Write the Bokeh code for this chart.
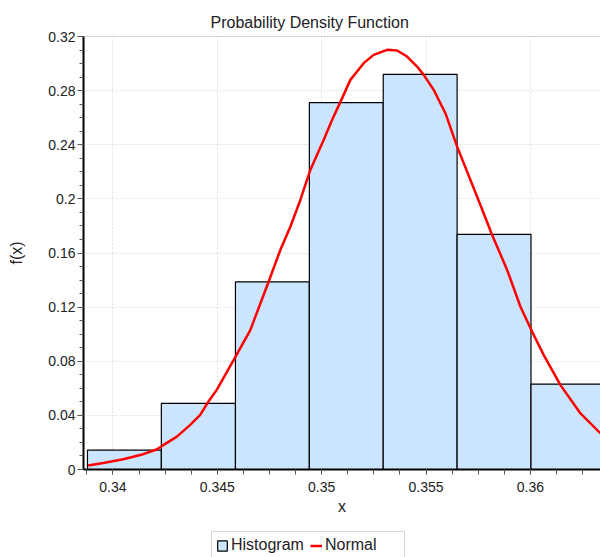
from bokeh.plotting import figure
from bokeh.layouts import column
from bokeh.models import (Range1d, SingleIntervalTicker, CustomJSTickFormatter, Legend,
                          LegendItem, Span)
from bokeh.embed import file_html
from bokeh.resources import INLINE

# Histogram (relative frequency per bin)
bin_edges = [0.33878, 0.34232, 0.34587, 0.34941, 0.35295, 0.35649, 0.36003, 0.36357]
bin_heights = [0.0143, 0.0488, 0.1387, 0.2712, 0.2920, 0.1738, 0.0631]

# Fitted normal curve
curve_x = [0.338816, 0.339535, 0.340494, 0.341453, 0.34209, 0.342411, 0.343049, 0.343691,
           0.344171, 0.344569, 0.344966, 0.345781, 0.346582, 0.347459, 0.34802, 0.3485,
           0.348979, 0.349458, 0.350096, 0.350499, 0.350896, 0.351376, 0.352013, 0.352493,
           0.353135, 0.353615, 0.354094, 0.354573, 0.35489, 0.355369, 0.35593, 0.356491,
           0.35745, 0.358169, 0.358888, 0.359526, 0.360086, 0.360642, 0.361443, 0.362402,
           0.363361]
curve_y = [0.00296, 0.00488, 0.00762, 0.01132, 0.01479, 0.01797, 0.02411, 0.03277,
           0.04016, 0.0500, 0.05865, 0.08084, 0.10303, 0.13876, 0.1622, 0.17944,
           0.19919, 0.22138, 0.24357, 0.25836, 0.2715, 0.28794, 0.3003, 0.30643,
           0.31013, 0.30962, 0.30518, 0.29778, 0.29164, 0.28055, 0.26331, 0.23861,
           0.20163, 0.1733, 0.14741, 0.12027, 0.10178, 0.08454, 0.06235, 0.04142,
           0.02663]

series_labels = ["Histogram", "Normal"]

FONT = "Liberation Sans"
TXT = "#222222"

p = figure(width=600, height=530, output_backend="svg", toolbar_location=None,
           x_range=Range1d(0.33859, 0.36336), y_range=Range1d(0, 0.32),
           min_border_left=83, min_border_right=0, min_border_top=36, min_border_bottom=61,
           title="Probability Density Function")
p.outline_line_color = None
p.background_fill_color = "white"
p.border_fill_color = "white"

p.title.text_font = FONT
p.title.text_font_size = "16px"
p.title.text_font_style = "normal"
p.title.text_color = TXT
p.title.align = "left"
p.title.offset = 127
p.title.standoff = 12

hist = p.quad(left=bin_edges[:-1], right=bin_edges[1:], top=bin_heights, bottom=0,
              fill_color="#cce5ff", line_color="black", line_width=1.2)
norm = p.line(curve_x, curve_y, line_color="red", line_width=2.5)

p.add_layout(Span(location=0.32, dimension="width", line_color="#777777",
                  line_dash="2 1", line_width=1))

fmt = CustomJSTickFormatter(code="return String(Number(tick.toFixed(5)));")

xa = p.xaxis[0]
xa.ticker = SingleIntervalTicker(interval=0.005, num_minor_ticks=4)
xa.formatter = fmt
xa.axis_label = "x"
ya = p.yaxis[0]
ya.ticker = SingleIntervalTicker(interval=0.04, num_minor_ticks=4)
ya.formatter = fmt
ya.axis_label = "f(x)"

for ax in (xa, ya):
    ax.axis_line_color = "black"
    ax.axis_line_width = 2
    ax.major_tick_line_color = "#555555"
    ax.minor_tick_line_color = "#555555"
    ax.major_tick_in = 0
    ax.minor_tick_in = 0
    ax.major_label_text_font = FONT
    ax.major_label_text_font_size = "14px"
    ax.major_label_text_color = TXT
    ax.axis_label_text_font = FONT
    ax.axis_label_text_font_size = "16px"
    ax.axis_label_text_font_style = "normal"
    ax.axis_label_text_color = TXT

xa.major_tick_out = 5
xa.minor_tick_out = 5
xa.major_label_standoff = 7
xa.axis_label_standoff = 3
ya.major_tick_out = 6
ya.minor_tick_out = 4
ya.major_label_standoff = 2
ya.axis_label_standoff = 20

p.xgrid.ticker = xa.ticker
p.ygrid.ticker = ya.ticker
for g in (p.xgrid[0], p.ygrid[0]):
    g.grid_line_color = "#dedede"
    g.grid_line_dash = "2 2"
    g.grid_line_width = 1

# Legend strip below the chart (its frame is aligned with the chart's frame)
lf = figure(width=600, height=27, output_backend="svg", toolbar_location=None,
            x_range=Range1d(0, 1), y_range=Range1d(0, 1),
            min_border_left=83, min_border_right=0, min_border_top=0, min_border_bottom=0)
lf.outline_line_color = None
lf.axis.visible = False
lf.grid.visible = False
# off-screen proxy glyphs that only supply the legend swatches
lf_hist = lf.quad(left=[-3], right=[-2], top=[-2], bottom=[-3], fill_color="#cce5ff",
                  line_color="black", line_width=1.2)
lf_norm = lf.line(x=[-3, -2], y=[-3, -3], line_color="red", line_width=2.5)

legend = Legend(items=[LegendItem(label=series_labels[0], renderers=[lf_hist]),
                       LegendItem(label=series_labels[1], renderers=[lf_norm])],
                orientation="horizontal", location=(128, -2))
legend.label_text_font = FONT
legend.label_text_font_size = "16px"
legend.label_text_color = TXT
legend.glyph_width = 12
legend.glyph_height = 13
legend.label_standoff = 3
legend.label_width = 75
legend.spacing = 4
legend.padding = 4
legend.margin = 0
legend.border_line_color = "#aaaaaa"
legend.border_line_width = 1
legend.background_fill_color = "white"
legend.label_height = 14
lf.add_layout(legend, "center")

page = column(p, lf, spacing=0)
open("out.html", "w").write(file_html(page, INLINE))
